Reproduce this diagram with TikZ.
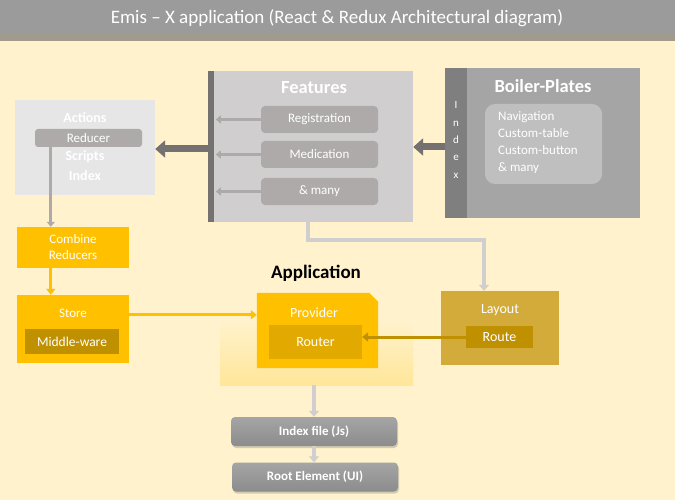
\documentclass[tikz,border=0pt]{standalone}
\usepackage{fontspec}
\setmainfont{Carlito}
\usetikzlibrary{arrows.meta,shadows}

\definecolor{cream}{HTML}{FFF2CC}
\definecolor{titlegray}{HTML}{9B9B9B}
\definecolor{bandgray}{HTML}{A09B8D}
\definecolor{darkgray}{HTML}{767171}
\definecolor{midgray}{HTML}{AEAAAA}
\definecolor{lightgray}{HTML}{D0CECE}
\definecolor{palegray}{HTML}{E6E6E6}
\definecolor{bpgray}{HTML}{A5A5A5}
\definecolor{bpbar}{HTML}{7F7F7F}
\definecolor{bpinner}{HTML}{BFBFBF}
\definecolor{gold}{HTML}{FFC000}
\definecolor{darkgold}{HTML}{BF9000}
\definecolor{routergold}{HTML}{E2AA00}
\definecolor{layoutgold}{HTML}{D2AB3A}
\definecolor{appyellow}{HTML}{FFE699}

\begin{document}
\begin{tikzpicture}[x=1pt,y=-1pt,
  box/.style={draw=none,inner sep=0pt,align=center,text=white,font=\fontsize{13}{16}\selectfont},
  subbox/.style={box,fill=midgray,rounded corners=4pt,minimum width=117pt,minimum height=27pt},
  btxt/.style={text=white,font=\bfseries\fontsize{14}{16}\selectfont,inner sep=0pt},
  big/.style={font=\bfseries\fontsize{18.5}{20}\selectfont},
  heavy/.style={darkgray,line width=7pt,-{Triangle[length=10pt,width=17pt]}},
  thin/.style={midgray,line width=3pt,-{Triangle[length=5pt,width=8pt]}},
  pipe/.style={lightgray,line width=4pt,-{Triangle[length=6pt,width=10pt]}},
  goldline/.style={gold,line width=3pt,-{Triangle[length=6pt,width=9pt]}},
  bottom/.style={box,rounded corners=4pt,top color=bpgray,bottom color=bpbar!90,
    drop shadow={shadow xshift=1pt,shadow yshift=-2pt,opacity=.35},
    minimum width=166pt,minimum height=29pt,font=\bfseries\fontsize{13}{15}\selectfont}]

\useasboundingbox (0,0) rectangle (675,500);
% background and title
\fill[cream] (0,41) rectangle (675,500);
\fill[titlegray] (0,0) rectangle (675,33);
\fill[bandgray] (0,33) rectangle (675,41);
\node[text=white,font=\fontsize{19}{22}\selectfont] at (337,18) (title) {Emis -- X application (React \& Redux Architectural diagram)};

% actions
\node[box,fill=palegray,minimum width=140pt,minimum height=95pt] at (85,147.5) (actions) {};
\node[btxt] at (85,118) (acttitle) {Actions};
\node[box,fill=midgray,rounded corners=3pt,minimum width=107pt,minimum height=18pt] at (88.5,138) (reducer) {Reducer};
\node[btxt] at (85,157) (scripts) {Scripts};
\node[btxt] at (85,176) (actindex) {Index};

% features
\node[box,fill=lightgray,minimum width=205pt,minimum height=151pt] at (310.5,146.5) (feat) {};
\fill[darkgray] (feat.north west) rectangle ++(6,151);
\node[btxt,big] at (314,88) (feattitle) {Features};
\foreach \n/\y/\t in {reg/119.5/Registration,med/154.5/Medication,many/191.5/\& many}{
  \node[subbox] at (319.5,\y) (\n) {\t};
  \draw[midgray,line width=3pt,-{Triangle[length=5pt,width=8pt]}] (\n.west) -- ([xshift=8pt]feat.west |- \n.west);
}

% boiler plates
\node[box,fill=bpgray,minimum width=195pt,minimum height=150pt] at (542.5,143) (bp) {};
\node[box,fill=bpbar,minimum width=22pt,minimum height=150pt,anchor=north west] at (bp.north west) (bpindex) {};
\node[text=white,align=center,font=\fontsize{11}{17.3}\selectfont] at (456,140) (idxletters) {I\\n\\d\\e\\x};
\node[btxt,big] at (543,86) (bptitle) {Boiler-Plates};
\node[box,fill=bpinner,rounded corners=10pt,minimum width=117pt,minimum height=80pt] at (543.5,144) (bpinner) {};
\node[text=white,align=left,anchor=west,inner sep=0pt,font=\fontsize{13}{17}\selectfont] at (498,142.5) (bplist) {Navigation\\Custom-table\\Custom-button\\\& many};

\draw[heavy] (bpindex.west |- 0,147) -- (feat.east |- 0,147);
\draw[heavy] (feat.west |- 0,149) -- (actions.east |- 0,149);

% redux side
\node[box,fill=gold,minimum width=112pt,minimum height=41pt] at (73,247.5) (combine) {Combine\\Reducers};
\node[box,fill=gold,minimum width=112pt,minimum height=68pt] at (73,329) (store) {};
\node[box] at (73,313) (storetxt) {Store};
\node[box,fill=darkgold,minimum width=94pt,minimum height=25pt,font=\fontsize{13.5}{16}\selectfont] at (72,341.5) (mw) {Middle-ware};

\draw[thin] ([xshift=16pt]reducer.south west) coordinate (r1) -- (r1 |- combine.north);
\draw[goldline] (r1 |- combine.south) -- (r1 |- store.north);

% application
\node[font=\bfseries\fontsize{19}{21}\selectfont] at (316,273) (apptitle) {Application};
\node[box,top color=cream,bottom color=appyellow,minimum width=193pt,minimum height=63pt] at (316.5,353.5) (appbg) {};
\node[box,minimum width=121pt,minimum height=75pt] at (317.5,330.5) (provider) {};
\fill[gold] (provider.south west) -- (provider.north west) -- ([xshift=-9pt]provider.north east)
  -- ([yshift=-9pt]provider.north east) -- (provider.south east) -- cycle;
\node[box,font=\fontsize{14}{16}\selectfont] at (314,313) (provtxt) {Provider};
\node[box,fill=routergold,minimum width=93pt,minimum height=34pt,font=\fontsize{14}{16}\selectfont] at (315.5,342) (router) {Router};

\draw[goldline] ([yshift=-20pt]store.north east) -- ([yshift=-20pt]store.north east -| provider.west);

% layout
\node[box,fill=layoutgold,minimum width=118pt,minimum height=74pt] at (500,328) (layout) {};
\node[box,font=\fontsize{14}{16}\selectfont] at (500,310) (layouttxt) {Layout};
\node[box,fill=darkgold,minimum width=67pt,minimum height=22pt,font=\fontsize{14}{16}\selectfont] at (499.5,337) (route) {Route};

\draw[darkgold,line width=3pt,-{Triangle[length=6pt,width=9pt]}] (route.west) -- (router.east |- route.west);
\draw[pipe] ([xshift=-2.5pt]feat.south) -- ++(0,18) -| ([xshift=-16pt]layout.north);

% bottom
\node[bottom] at (314,431.5) (idx) {Index file (Js)};
\node[bottom] at (315,477) (root) {Root Element (UI)};
\draw[pipe] (idx.north |- appbg.south) -- (idx.north);
\draw[pipe] (idx.south) -- (idx.south |- root.north);
\end{tikzpicture}
\end{document}
